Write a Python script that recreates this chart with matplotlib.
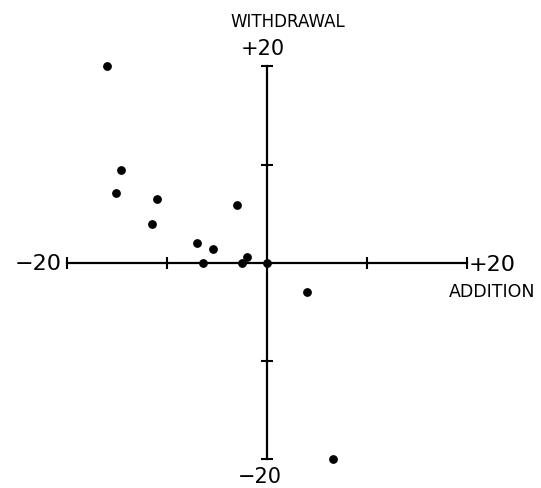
import matplotlib
matplotlib.use("Agg")
import matplotlib.pyplot as plt

# addition (x) vs withdrawal (y)
addition = [-16.0, -14.6, -15.1, -11.0, -11.5, -7.0, -5.4, -6.4, -3.0, -2.5, -2.0, 0.0, 4.0, 6.6]
withdrawal = [20.0, 9.4, 7.1, 6.5, 4.0, 2.0, 1.4, 0.0, 5.9, 0.0, 0.6, 0.0, -3.0, -20.0]
ticks = [-20, -10, 10, 20]

plt.rcParams['font.family'] = ['DejaVu Sans']

fig = plt.figure(figsize=(5.41, 4.88), dpi=100)
ax = fig.add_axes([0, 0, 1, 1])
ax.set_xlim(-26.73, 27.37)
ax.set_ylim(-22.93, 26.76)

# axes crossing at the origin
for side in ['top', 'right']:
    ax.spines[side].set_visible(False)
for side in ['left', 'bottom']:
    ax.spines[side].set_position(('data', 0))
    ax.spines[side].set_bounds(-20, 20)
    ax.spines[side].set_linewidth(1.6)
ax.set_xticks(ticks)
ax.set_yticks(ticks)
ax.set_xticklabels([])
ax.set_yticklabels([])
ax.tick_params(direction='inout', length=8, width=1.5, color='black')

ax.scatter(addition, withdrawal, s=28, color='black', zorder=5, clip_on=False)

# labels
ax.text(2.1, 24.0, 'WITHDRAWAL', ha='center', va='baseline', fontsize=12)
ax.text(-0.4, 21.16, '+20', ha='center', va='baseline', fontsize=15)
ax.text(-20.6, -0.73, '\u221220', ha='right', va='baseline', fontsize=16)
ax.text(20.1, -0.8, '+20', ha='left', va='baseline', fontsize=16)
ax.text(22.5, -3.45, 'ADDITION', ha='center', va='baseline', fontsize=12.5)
ax.text(-0.7, -22.45, '\u221220', ha='center', va='baseline', fontsize=15)

fig.savefig('out.png', dpi=100)
